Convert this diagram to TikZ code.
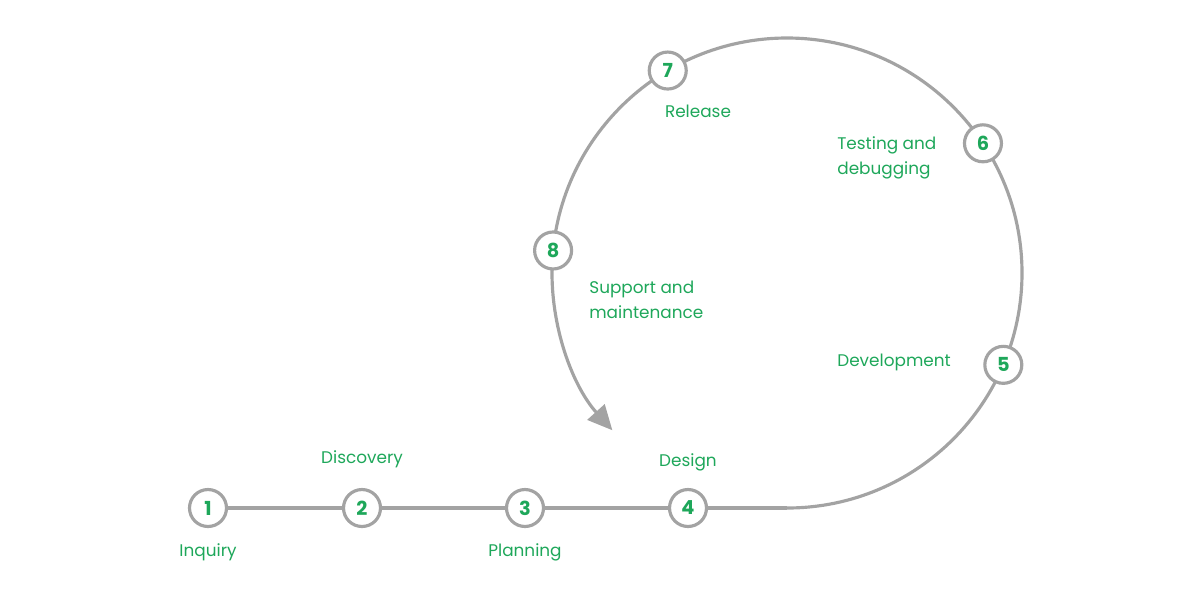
\documentclass[tikz,border=0pt]{standalone}
\usepackage{fontspec}
\setmainfont{Poppins}
\usetikzlibrary{arrows.meta,calc}
\definecolor{gr}{HTML}{1EA75A}
\definecolor{ln}{HTML}{A3A3A3}
\begin{document}
\begin{tikzpicture}[x=0.02cm,y=-0.02cm,
  stepnode/.style={circle,draw=ln,line width=1.8pt,fill=white,minimum size=0.74cm,inner sep=0pt,text=gr,font=\fontsize{11}{12}\selectfont\bfseries},
  lab/.style={text=gr,font=\fontsize{9.6}{14}\selectfont,inner sep=0pt},
  labl/.style={lab,anchor=west,align=left}]
\useasboundingbox (0,0) rectangle (1200,600);
\coordinate (c) at (787,273);
\coordinate (s) at (208,508);
\coordinate (b) at (787,508);
\draw[ln,line width=1.8pt] (s) -- (b);
\draw[ln,line width=1.8pt,-{Triangle[length=14pt,width=13pt]}] (b) arc[start angle=90,end angle=-222,radius=235];
\node[stepnode] (n1) at (208,508) {1};
\node[stepnode] (n2) at (362,508) {2};
\node[stepnode] (n3) at (525,508) {3};
\node[stepnode] (n4) at (688,508) {4};
\node[stepnode] (n5) at ($(c)+(23:235)$) {5};
\node[stepnode] (n6) at ($(c)+(-33.5:235)$) {6};
\node[stepnode] (n7) at ($(c)+(-120.5:235)$) {7};
\node[stepnode] (n8) at ($(c)+(-174.5:235)$) {8};
\node[lab] (l1) at (208,552) {Inquiry};
\node[lab] (l2) at (362,459) {Discovery};
\node[lab] (l3) at (525,552) {Planning};
\node[lab] (l4) at (688,462) {Design};
\node[labl] (l5) at (837,362) {Development};
\node[labl] (l6) at (837,158) {Testing and\\debugging};
\node[lab] (l7) at (698,111) {Release};
\node[labl] (l8) at (589,300) {Support and\\maintenance};
\end{tikzpicture}
\end{document}
